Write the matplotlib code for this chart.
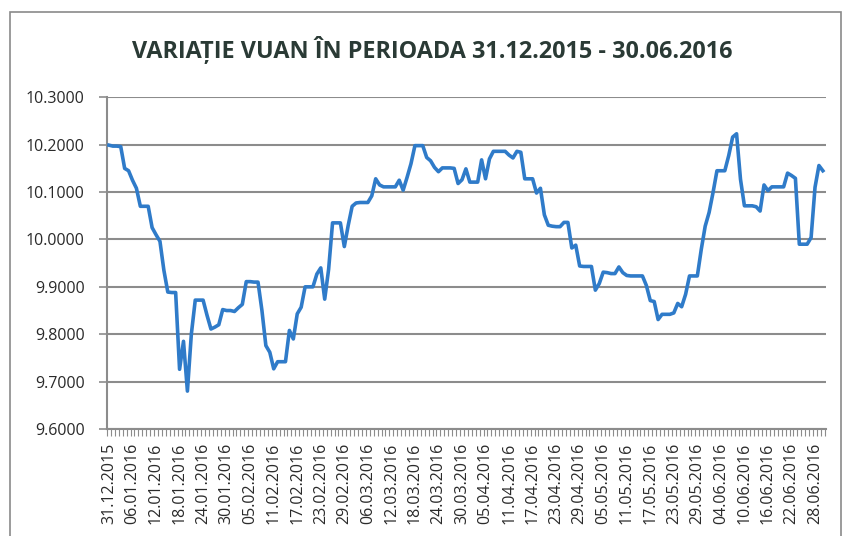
import matplotlib
matplotlib.use("Agg")
import matplotlib.pyplot as plt
import numpy as np
import pandas as pd
from matplotlib.patches import Rectangle

title = "VARIAȚIE VUAN ÎN PERIOADA 31.12.2015 - 30.06.2016"
start_date = "2015-12-31"
end_date = "2016-06-30"

vuan = [
    10.199, 10.197, 10.197, 10.196, 10.150, 10.145, 10.125, 10.108, 10.070, 10.070,
    10.070, 10.025, 10.010, 9.996, 9.935, 9.889, 9.888, 9.888, 9.726, 9.785,
    9.680, 9.800, 9.872, 9.872, 9.872, 9.840, 9.811, 9.815, 9.820, 9.852,
    9.850, 9.850, 9.848, 9.856, 9.863, 9.911, 9.911, 9.910, 9.910, 9.850,
    9.776, 9.762, 9.727, 9.742, 9.742, 9.742, 9.808, 9.790, 9.843, 9.857,
    9.900, 9.900, 9.900, 9.927, 9.940, 9.874, 9.937, 10.035, 10.035, 10.035,
    9.985, 10.030, 10.070, 10.077, 10.078, 10.078, 10.078, 10.092, 10.128, 10.115,
    10.111, 10.111, 10.111, 10.111, 10.125, 10.104, 10.131, 10.160, 10.198, 10.198,
    10.198, 10.173, 10.166, 10.152, 10.143, 10.151, 10.151, 10.151, 10.150, 10.118,
    10.126, 10.149, 10.121, 10.121, 10.121, 10.168, 10.128, 10.170, 10.186, 10.186,
    10.186, 10.186, 10.178, 10.172, 10.186, 10.184, 10.128, 10.128, 10.128, 10.098,
    10.108, 10.052, 10.030, 10.028, 10.027, 10.027, 10.036, 10.036, 9.982, 9.988,
    9.944, 9.943, 9.943, 9.943, 9.893, 9.907, 9.931, 9.930, 9.928, 9.928,
    9.942, 9.930, 9.924, 9.923, 9.923, 9.923, 9.923, 9.903, 9.871, 9.869,
    9.831, 9.842, 9.842, 9.842, 9.845, 9.865, 9.858, 9.884, 9.923, 9.923,
    9.923, 9.979, 10.028, 10.057, 10.099, 10.145, 10.145, 10.145, 10.177, 10.216,
    10.223, 10.127, 10.071, 10.071, 10.071, 10.069, 10.060, 10.115, 10.103, 10.111,
    10.111, 10.111, 10.111, 10.140, 10.135, 10.129, 9.990, 9.990, 9.990, 10.004,
    10.110, 10.156, 10.145,
]
y_ticks = [9.6, 9.7, 9.8, 9.9, 10.0, 10.1, 10.2, 10.3]
label_step = 6

dates = pd.date_range(start_date, end_date, freq="D")
x = np.arange(len(dates))

plt.rcParams['font.family'] = ['Open Sans', 'DejaVu Sans']

W, H = 843, 536
fig = plt.figure(figsize=(W / 100, H / 100), dpi=100)
ax = fig.add_axes([107 / W, 1 - 429 / H, (826 - 107) / W, (429 - 97.3) / H])

# chart border
fig.patches.append(Rectangle((10 / W, -0.05), (841 - 10) / W, 1 - 12 / H + 0.05,
                             transform=fig.transFigure, fill=False,
                             edgecolor='#8a8a8a', linewidth=1.2))

ax.plot(x, vuan, color='#2f7bc9', linewidth=2.6, solid_joinstyle='round', zorder=3)

ax.set_ylim(9.6, 10.3)
ax.set_xlim(-0.5, 182.8)
ax.set_yticks(y_ticks)
ax.set_yticklabels([f"{v:.4f}" for v in y_ticks])
ax.yaxis.grid(True, color='#8c8c8c', linewidth=1.5)
ax.set_axisbelow(True)

major = x[::label_step]
ax.set_xticks(major)
ax.set_xticklabels([dates[i].strftime('%d.%m.%Y') for i in major], rotation=90)
ax.set_xticks(np.arange(-0.5, len(dates), 1), minor=True)

ax.tick_params(axis='x', which='major', length=0, pad=10, labelsize=11.5, labelcolor='#2a2a2a')
ax.tick_params(axis='x', which='minor', length=5, width=0.8, color='#8c8c8c', direction='out')
ax.tick_params(axis='y', which='major', length=6, width=1.2, color='#8c8c8c', pad=10,
               labelsize=11.5, labelcolor='#2a2a2a')

for s in ['top', 'right']:
    ax.spines[s].set_visible(False)
for s in ['left', 'bottom']:
    ax.spines[s].set_color('#8c8c8c')
    ax.spines[s].set_linewidth(1.5)

fig.text(432 / W, 1 - 50 / H, title, ha='center', va='center', fontsize=16.8,
         fontweight='bold', color='#2a3a35')

fig.savefig('out.png', dpi=100)
